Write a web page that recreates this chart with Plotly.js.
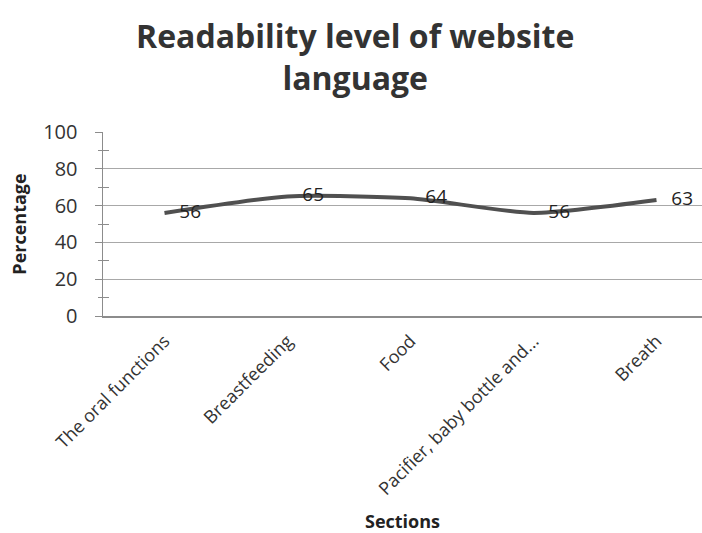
<!DOCTYPE html>
<html><head><meta charset="utf-8">
<script src="https://cdn.plot.ly/plotly-3.0.1.min.js"></script>
<style>body{margin:0;background:#fff}</style>
</head><body><div id="chart" style="width:702px;height:533px"></div>
<script>
const categories = ["The oral functions", "Breastfeeding", "Food", "Pacifier, baby bottle and...", "Breath"];
const percentages = [56, 65, 64, 56, 63];
const yTicks = [0, 20, 40, 60, 80, 100];
const yMinorTicks = [10, 30, 50, 70, 90];

const font = "Open Sans, Lato, sans-serif";

const trace = {
  x: categories, y: percentages, type: "scatter", mode: "lines+text",
  text: percentages.map(v => "\u00a0\u00a0\u00a0" + v), textposition: "middle right",
  textfont: {family: font, size: 19, color: "#222"},
  line: {color: "#505050", width: 4, shape: "spline", smoothing: 0.6},
  hoverinfo: "skip", cliponaxis: false, showlegend: false
};
const ghost = {x: [categories[0]], y: [0], yaxis: "y2", mode: "markers", marker: {opacity: 0}, showlegend: false, hoverinfo: "skip"};

const layout = {
  width: 702, height: 533,
  margin: {l: 103, r: 0, t: 132, b: 217},
  paper_bgcolor: "#fff", plot_bgcolor: "#fff",
  title: {text: "<b>Readability level of website<br>language</b>", x: 0.506, xanchor: "center",
          yref: "container", y: 0.91, yanchor: "middle",
          font: {family: font, size: 32, color: "#333"}},
  xaxis: {type: "category", range: [-0.5, 4.37], showgrid: false, zeroline: false,
          showline: true, linecolor: "#8c8c8c", linewidth: 1.5, ticks: "", tickangle: -45,
          ticklabelstandoff: 6,
          tickfont: {family: font, size: 18, color: "#333"},
          title: {text: "<b>Sections</b>", font: {family: font, size: 18, color: "#222"}, standoff: 24}},
  yaxis: {range: [0, 100], tickvals: yTicks, showgrid: true, gridcolor: "#a8a8a8", gridwidth: 1.2,
          zeroline: false, showline: true, linecolor: "#8c8c8c", linewidth: 1.5,
          ticks: "outside", ticklen: 7, tickcolor: "#8c8c8c", ticklabelstandoff: 13,
          minor: {tickvals: yMinorTicks, ticks: "inside", ticklen: 6, tickcolor: "#8c8c8c", showgrid: false},
          tickfont: {family: font, size: 20, color: "#333"},
          title: {text: "<b>Percentage</b>", font: {family: font, size: 18, color: "#222"}, standoff: 12}},
  yaxis2: {range: [0, 100], overlaying: "y", side: "left", tickvals: yMinorTicks, showticklabels: false,
           ticks: "outside", ticklen: 4, tickcolor: "#8c8c8c", showgrid: false, zeroline: false, showline: false}
};
Plotly.newPlot("chart", [trace, ghost], layout, {displayModeBar: false, staticPlot: true});
</script></body></html>
